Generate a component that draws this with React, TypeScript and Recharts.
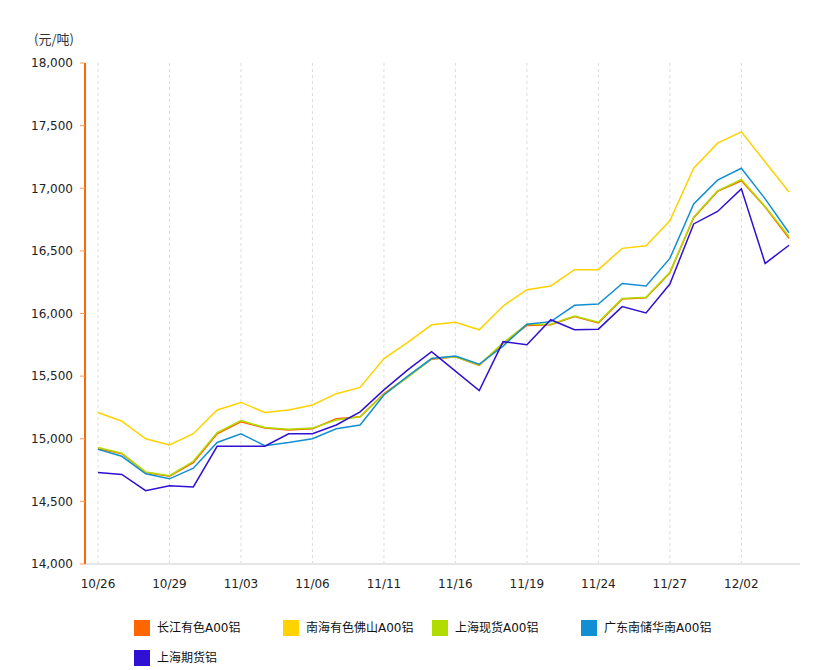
import React from "react";
import {
  LineChart,
  Line,
  XAxis,
  YAxis,
  ReferenceLine,
} from "recharts";

const dates = [
  "10/26", "10/27", "10/28", "10/29", "10/30",
  "11/02", "11/03", "11/04", "11/05", "11/06",
  "11/09", "11/10", "11/11", "11/12", "11/13",
  "11/16", "11/17", "11/18", "11/19", "11/20",
  "11/23", "11/24", "11/25", "11/26", "11/27",
  "11/30", "12/01", "12/02", "12/03", "12/04",
];

const tickDates = ["10/26", "10/29", "11/03", "11/06", "11/11", "11/16", "11/19", "11/24", "11/27", "12/02"];
const yTicks = [14000, 14500, 15000, 15500, 16000, 16500, 17000, 17500, 18000];

const changjiang = [
  14920, 14880, 14730, 14700, 14810, 15040, 15135, 15085, 15070, 15080,
  15160, 15175, 15360, 15495, 15635, 15655, 15585, 15760, 15905, 15910,
  15975, 15925, 16115, 16125, 16325, 16765, 16975, 17060, 16850, 16600,
];
const nanhaiFoshan = [
  15210, 15140, 15000, 14950, 15040, 15230, 15290, 15210, 15230, 15270,
  15360, 15410, 15640, 15770, 15910, 15930, 15870, 16060, 16190, 16220,
  16350, 16350, 16520, 16540, 16740, 17160, 17360, 17450, 17210, 16970,
];
const shanghaiSpot = [
  14930, 14885, 14735, 14705, 14820, 15050, 15145, 15090, 15075, 15085,
  15150, 15175, 15355, 15490, 15640, 15655, 15590, 15765, 15915, 15915,
  15980, 15930, 16120, 16130, 16330, 16770, 16980, 17070, 16855, 16615,
];
const guangdong = [
  14915, 14860, 14720, 14680, 14765, 14970, 15040, 14945, 14970, 15000,
  15080, 15110, 15350, 15500, 15640, 15660, 15595, 15740, 15915, 15935,
  16065, 16075, 16240, 16220, 16440, 16875, 17065, 17160, 16915, 16645,
];
const shanghaiFutures = [
  14730, 14715, 14585, 14625, 14615, 14940, 14940, 14940, 15040, 15040,
  15110, 15215, 15390, 15550, 15695, 15540, 15385, 15775, 15750, 15950,
  15870, 15875, 16055, 16005, 16235, 16715, 16815, 16995, 16400, 16545,
];

const series = [
  { key: "cj", name: "长江有色A00铝", color: "#ff6600", values: changjiang },
  { key: "nh", name: "南海有色佛山A00铝", color: "#ffd200", values: nanhaiFoshan },
  { key: "sh", name: "上海现货A00铝", color: "#b2dc00", values: shanghaiSpot },
  { key: "gd", name: "广东南储华南A00铝", color: "#128fd2", values: guangdong },
  { key: "qh", name: "上海期货铝", color: "#3010d2", values: shanghaiFutures },
];

const data = dates.map((date, i) => {
  const row: any = { date };
  series.forEach((s) => {
    row[s.key] = s.values[i];
  });
  return row;
});

const font = '"DejaVu Sans", "Noto Sans CJK SC", sans-serif';

export default function App() {
  return (
    <div
      style={{
        position: "absolute",
        left: 0,
        top: 0,
        width: 813,
        height: 670,
        background: "#fff",
        fontFamily: font,
      }}
    >
      <div
        style={{
          position: "absolute",
          left: 34,
          top: 29,
          fontSize: 13,
          color: "#333",
          fontFamily: '"Noto Sans CJK SC", sans-serif',
        }}
      >
        (元/吨)
      </div>
      <div style={{ position: "absolute", left: 0, top: 0 }}>
        <LineChart
          width={813}
          height={610}
          data={data}
          margin={{ top: 63, right: 13, left: 0, bottom: 16 }}
        >
          {/* dashed vertical guides only at labelled dates */}
          {tickDates.map((d) => (
            <ReferenceLine
              key={d}
              x={d}
              stroke="#dcdcdc"
              strokeDasharray="3 3"
            />
          ))}
          <XAxis
            dataKey="date"
            ticks={tickDates}
            interval={0}
            padding={{ left: 13, right: 11 }}
            height={30}
            axisLine={{ stroke: "#e6e6e6", strokeWidth: 2 }}
            tickLine={false}
            tickSize={0}
            tickMargin={15}
            tick={{ fontSize: 12, fill: "#222", fontFamily: font }}
          />
          <YAxis
            width={85}
            domain={[14000, 18000]}
            ticks={yTicks}
            interval={0}
            axisLine={{ stroke: "#ff6600", strokeWidth: 2 }}
            tickLine={{ stroke: "#ff9955" }}
            tickSize={5}
            tickMargin={7}
            tickFormatter={(v: number) => v.toLocaleString("en-US")}
            tick={{ fontSize: 12, fill: "#222", fontFamily: font }}
          />
          {series.map((s) => (
            <Line
              key={s.key}
              type="linear"
              dataKey={s.key}
              name={s.name}
              stroke={s.color}
              strokeWidth={1.5}
              dot={false}
              activeDot={false}
              isAnimationActive={false}
            />
          ))}
        </LineChart>
      </div>
      <div
        style={{
          position: "absolute",
          left: 134,
          top: 620,
          width: 600,
          display: "flex",
          flexWrap: "wrap",
        }}
      >
        {series.map((s) => (
          <div
            key={s.key}
            style={{
              width: 149,
              height: 30,
              display: "flex",
              alignItems: "flex-start",
            }}
          >
            <span
              style={{
                display: "inline-block",
                width: 16,
                height: 16,
                background: s.color,
                marginRight: 7,
              }}
            />
            <span style={{ fontSize: 12, lineHeight: "16px", color: "#111", whiteSpace: "nowrap" }}>
              {s.name}
            </span>
          </div>
        ))}
      </div>
    </div>
  );
}
